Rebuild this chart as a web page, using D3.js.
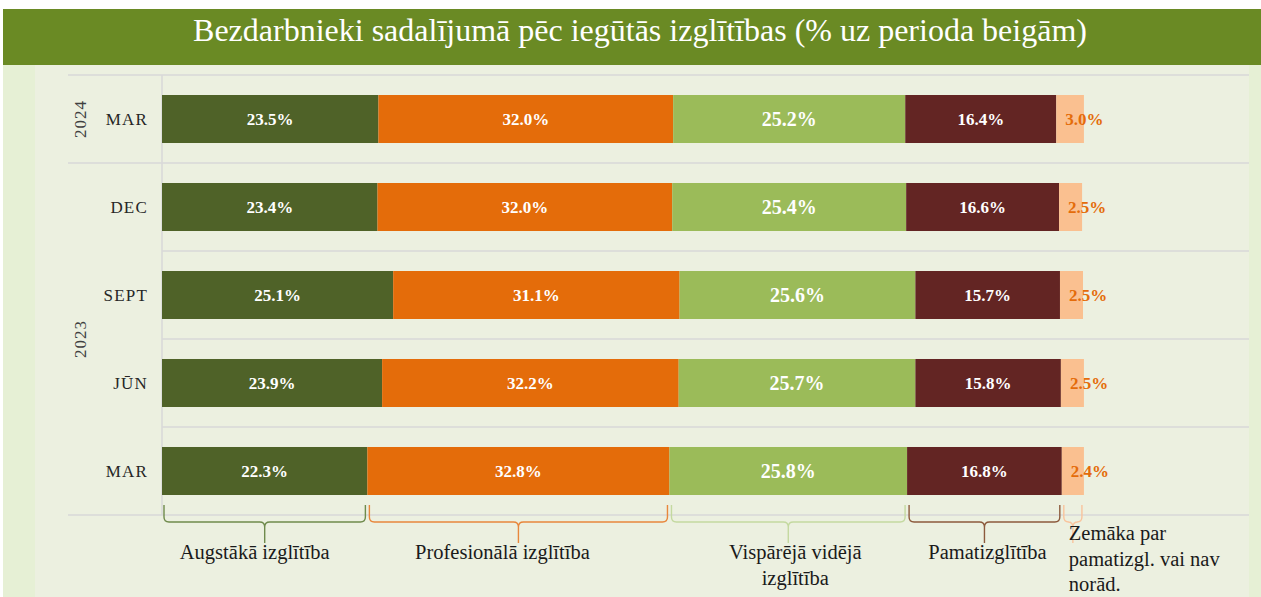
<!DOCTYPE html>
<html>
<head>
<meta charset="utf-8">
<script src="https://cdn.jsdelivr.net/npm/d3@7.9.0/dist/d3.min.js"></script>
<style>
  html, body { margin: 0; padding: 0; background: #ffffff; }
  svg { display: block; font-family: "Liberation Serif", "Times New Roman", serif; }
</style>
</head>
<body>
<svg id="chart" width="1261" height="597"></svg>
<script>
const title = "Bezdarbnieki sadalījumā pēc iegūtās izglītības (% uz perioda beigām)";
const periods = ["MAR", "DEC", "SEPT", "JŪN", "MAR"];
const years = ["2024", "2023", "2023", "2023", "2023"];
const seriesNames = [
  "Augstākā izglītība",
  "Profesionālā izglītība",
  "Vispārējā vidējā izglītība",
  "Pamatizglītība",
  "Zemāka par pamatizgl. vai nav norād."
];
const legendLines = [
  ["Augstākā izglītība"],
  ["Profesionālā izglītība"],
  ["Vispārējā vidējā", "izglītība"],
  ["Pamatizglītība"],
  ["Zemāka par", "pamatizgl. vai nav", "norād."]
];
const augstaka = [23.5, 23.4, 25.1, 23.9, 22.3];
const profesionala = [32.0, 32.0, 31.1, 32.2, 32.8];
const visparejaVideja = [25.2, 25.4, 25.6, 25.7, 25.8];
const pamatizglitiba = [16.4, 16.6, 15.7, 15.8, 16.8];
const zemaka = [3.0, 2.5, 2.5, 2.5, 2.4];

const seriesValues = [augstaka, profesionala, visparejaVideja, pamatizglitiba, zemaka];
const colors = ["#4f6228", "#e46c0a", "#9bbb59", "#632523", "#fac090"];
const braceColors = ["#6f8a4c", "#e8873c", "#c4d9a0", "#8c5a3c", "#f9c39c"];
// small nudges of the legend text relative to the brace tip
const legendShift = [-10, -16, 7, 3, 0];

const svg = d3.select("#chart");

// background panels
svg.append("rect").attr("x", 3).attr("y", 65).attr("width", 1258).attr("height", 532).attr("fill", "#e6f0d5");
svg.append("rect").attr("x", 35).attr("y", 65).attr("width", 1214).attr("height", 532).attr("fill", "#ecf0e0");

// title banner
svg.append("rect").attr("x", 3).attr("y", 9).attr("width", 1258).attr("height", 56).attr("fill", "#6a8a24");
svg.append("text")
  .attr("x", 640).attr("y", 41)
  .attr("text-anchor", "middle")
  .attr("fill", "#ffffff")
  .style("font-size", "32px")
  .text(title);

const keys = periods.map((p, i) => i);
const x = d3.scaleLinear().domain([0, 100]).range([162, 1083]);
const y = d3.scaleBand().domain(keys).range([75, 515]).paddingInner(0.4545).paddingOuter(0.2273);
const step = y.step();

// gridlines
const lineYs = d3.range(keys.length + 1).map(i => 75 + i * step);
svg.append("g").selectAll("line")
  .data(lineYs)
  .join("line")
  .attr("x1", (d, i) => (i === 0 || i === lineYs.length - 1 || years[i] !== years[i - 1]) ? 68 : 162)
  .attr("x2", 1249)
  .attr("y1", d => d).attr("y2", d => d)
  .attr("stroke", "#d9d9d9").attr("stroke-width", 1.5);
svg.append("line")
  .attr("x1", 162).attr("x2", 162).attr("y1", 75).attr("y2", 515)
  .attr("stroke", "#d9d9d9").attr("stroke-width", 1.5);

// stacked data
const rows = keys.map(i => {
  let acc = 0;
  return seriesValues.map((vals, s) => {
    const seg = { row: i, s, v: vals[i], x0: acc, x1: acc + vals[i] };
    acc += vals[i];
    return seg;
  });
});
const segs = rows.flat();

svg.append("g").selectAll("rect")
  .data(segs)
  .join("rect")
  .attr("x", d => x(d.x0))
  .attr("y", d => y(d.row))
  .attr("width", d => x(d.x1) - x(d.x0))
  .attr("height", y.bandwidth())
  .attr("fill", d => colors[d.s]);

svg.append("g").selectAll("text")
  .data(segs)
  .join("text")
  .attr("x", d => d.s === 4 ? x(d.x0) + 9 : (x(d.x0) + x(d.x1)) / 2)
  .attr("y", d => y(d.row) + y.bandwidth() / 2)
  .attr("dy", "0.35em")
  .attr("text-anchor", d => d.s === 4 ? "start" : "middle")
  .attr("fill", d => d.s === 4 ? "#e46c0a" : "#ffffff")
  .style("font-weight", "bold")
  .style("font-size", d => d.s === 2 ? "20px" : "17px")
  .text(d => d.v.toFixed(1) + "%");

// category labels
svg.append("g").selectAll("text")
  .data(keys)
  .join("text")
  .attr("x", 148)
  .attr("y", d => y(d) + y.bandwidth() / 2)
  .attr("dy", "0.35em")
  .attr("text-anchor", "end")
  .attr("fill", "#262626")
  .style("font-size", "17px")
  .style("letter-spacing", "1.2px")
  .text(d => periods[d]);

// year labels
const yearGroups = d3.groups(keys, k => years[k]);
svg.append("g").selectAll("text")
  .data(yearGroups)
  .join("text")
  .attr("transform", ([yr, ks]) => {
    const cy = (y(ks[0]) - y.step() * y.paddingInner() / 2 + y(ks[ks.length - 1]) + y.bandwidth() + y.step() * y.paddingInner() / 2) / 2;
    return `translate(80,${cy}) rotate(-90)`;
  })
  .attr("dy", "0.35em")
  .attr("text-anchor", "middle")
  .attr("fill", "#404040")
  .style("font-size", "17px")
  .style("letter-spacing", "1px")
  .text(([yr]) => yr);

// braces under the last row
const last = rows[rows.length - 1];
const yTop = 505, yMid = 522, yTip = 543;
function bracePath(a, b) {
  const c = (a + b) / 2, r = 5;
  return `M${a},${yTop} L${a},${yMid - r} Q${a},${yMid} ${a + r},${yMid} L${c - r},${yMid} Q${c},${yMid} ${c},${yMid + r} L${c},${yTip}` +
    ` M${b},${yTop} L${b},${yMid - r} Q${b},${yMid} ${b - r},${yMid} L${c + r},${yMid} Q${c},${yMid} ${c},${yMid + r}`;
}
svg.append("g").selectAll("path")
  .data(last)
  .join("path")
  .attr("d", d => bracePath(x(d.x0) + 2, x(d.x1) - 2))
  .attr("fill", "none")
  .attr("stroke", d => braceColors[d.s])
  .attr("stroke-width", 1.4);

// legend texts
const legendX = d => d.s === 4 ? x(d.x0) + 7 : (x(d.x0) + x(d.x1)) / 2 + legendShift[d.s];
const lg = svg.append("g").selectAll("text")
  .data(last)
  .join("text")
  .attr("x", legendX)
  .attr("y", d => d.s === 4 ? 540 : 559)
  .attr("text-anchor", d => d.s === 4 ? "start" : "middle")
  .attr("fill", "#1a1a1a")
  .style("font-size", "20.5px");
lg.selectAll("tspan")
  .data(d => legendLines[d.s].map(t => ({ t, d })))
  .join("tspan")
  .attr("x", o => legendX(o.d))
  .attr("dy", (o, i) => i === 0 ? 0 : 25.5)
  .text(o => o.t);
</script>
</body>
</html>
